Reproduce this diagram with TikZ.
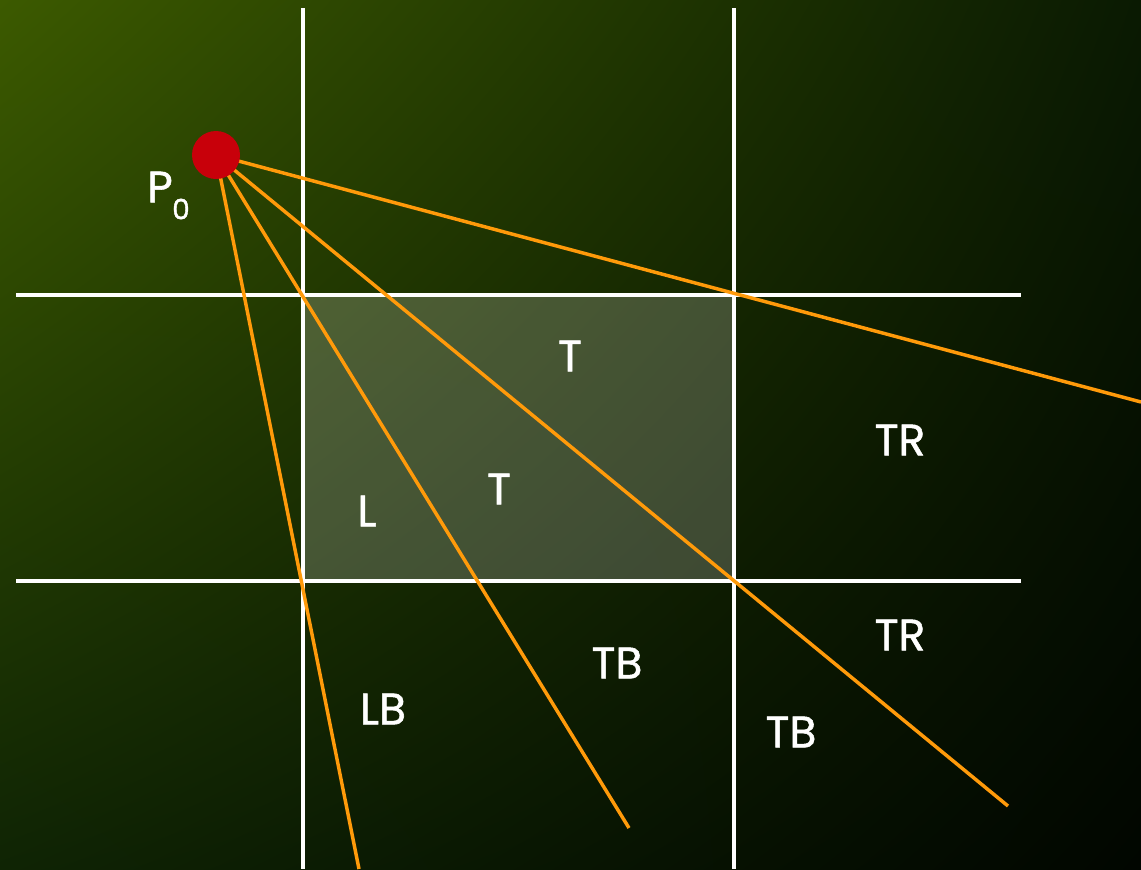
\documentclass[tikz,border=0pt]{standalone}
\usepackage{fontspec}
\setmainfont{Poppins}
\newfontfamily\lblfont[FakeBold=1.2]{Poppins}
\usetikzlibrary{shadings}
\definecolor{bgUL}{HTML}{3C5A00}
\definecolor{bgUR}{HTML}{0A1A02}
\definecolor{bgLL}{HTML}{0F2404}
\definecolor{bgLR}{HTML}{010600}
\definecolor{orangeL}{HTML}{FF9A0A}
\definecolor{redDot}{HTML}{C8000A}
\tikzset{
  gridline/.style={white, line width=2.4pt},
  ray/.style={orangeL, line width=2.6pt},
  lbl/.style={text=white, font=\lblfont\fontsize{33}{36}\selectfont, inner sep=0pt, anchor=center},
}
\begin{document}
\begin{tikzpicture}[x=0.75pt,y=-0.75pt]
\useasboundingbox (0,0) rectangle (1141,869);
\shade[upper left=bgUL, upper right=bgUR, lower left=bgLL, lower right=bgLR] (0,0) rectangle (1141,869);
% highlighted cell
\fill[white, opacity=0.2] (303,295) rectangle (734,581);
% grid
\coordinate (v1t) at (303,8); \coordinate (v1b) at (303,869);
\coordinate (v2t) at (734,8); \coordinate (v2b) at (734,869);
\coordinate (h1l) at (16,295); \coordinate (h1r) at (1021,295);
\coordinate (h2l) at (16,581); \coordinate (h2r) at (1021,581);
\draw[gridline] (v1t) -- (v1b);
\draw[gridline] (v2t) -- (v2b);
\draw[gridline] (h1l) -- (h1r);
\draw[gridline] (h2l) -- (h2r);
% rays
\coordinate (p) at (216,155);
\coordinate (e1) at (1141,402);
\coordinate (e2) at (1008,806);
\coordinate (e3) at (629,828);
\coordinate (e4) at (359,869);
\draw[ray] (p) -- (e1);
\draw[ray] (p) -- (e2);
\draw[ray] (p) -- (e3);
\draw[ray] (p) -- (e4);
\node[circle, fill=redDot, minimum size=36pt, inner sep=0pt] (p0) at (p) {};
% labels
\node[lbl] (lp) at (160,187) {P};
\node[lbl, font=\lblfont\fontsize{21}{24}\selectfont] (lp0) at (181,209) {0};
\node[lbl] (t1) at (570,356) {T};
\node[lbl] (tr1) at (900,440) {TR};
\node[lbl] (t2) at (499,489) {T};
\node[lbl] (l1) at (367,511) {L};
\node[lbl] (tr2) at (900,635) {TR};
\node[lbl] (tb1) at (617,663) {TB};
\node[lbl] (lb1) at (383,709) {LB};
\node[lbl] (tb2) at (791,732) {TB};
\end{tikzpicture}
\end{document}
